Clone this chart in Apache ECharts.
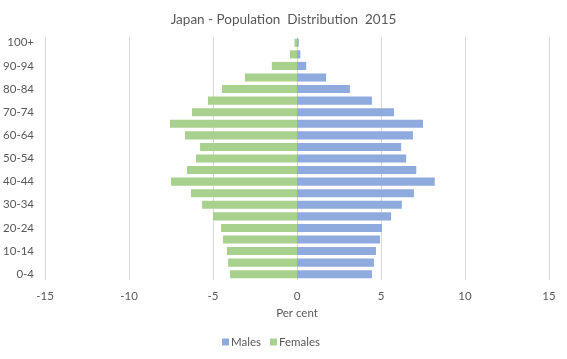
<!DOCTYPE html>
<html><head><meta charset="utf-8">
<script src="https://cdn.jsdelivr.net/npm/echarts@6/dist/echarts.min.js"></script>
<style>html,body{margin:0;padding:0;background:#fff}#c{width:567px;height:359px}</style>
</head><body><div id="c"></div>
<script>
const categories = ['0-4','5-9','10-14','15-19','20-24','25-29','30-34','35-39','40-44','45-49','50-54','55-59','60-64','65-69','70-74','75-79','80-84','85-89','90-94','95-99','100+'];
const males = [4.46,4.58,4.7,4.94,5.06,5.6,6.24,6.96,8.2,7.1,6.5,6.2,6.9,7.5,5.77,4.46,3.15,1.73,0.55,0.2,0.1];
const females = [-3.99,-4.1,-4.17,-4.4,-4.52,-5.0,-5.65,-6.31,-7.5,-6.55,-6.01,-5.77,-6.67,-7.56,-6.25,-5.3,-4.46,-3.1,-1.5,-0.42,-0.15];
const xTicks = [-15,-10,-5,0,5,10,15];
const txt = '#595959';
const ff = 'Lato, Open Sans, sans-serif';
const chart = echarts.init(document.getElementById('c'));
chart.setOption({
  animation:false,
  textStyle:{fontFamily:ff},
  title:{text:'Japan - Population  Distribution  2015',left:'center',top:8,textStyle:{fontSize:13.5,fontWeight:'normal',color:txt,fontFamily:ff}},
  legend:{bottom:6,left:217,itemWidth:7,itemHeight:7,itemGap:9,icon:'rect',textStyle:{fontSize:11.5,color:txt,fontFamily:ff,padding:[0,0,0,-3]},data:['Males','Females']},
  grid:{left:45,right:18,top:37,bottom:79,containLabel:false},
  xAxis:{type:'value',min:xTicks[0],max:xTicks[xTicks.length-1],interval:5,
    name:'Per cent',nameLocation:'middle',nameGap:25,nameTextStyle:{fontSize:11.5,color:txt,fontFamily:ff},
    axisLine:{show:false},axisTick:{show:false},
    axisLabel:{fontSize:11.5,color:txt,margin:10,fontFamily:ff},
    splitLine:{lineStyle:{color:'#d9d9d9',width:1}}},
  yAxis:{type:'category',data:categories,
    axisLine:{show:false},axisTick:{show:false},
    axisLabel:{interval:1,fontSize:11.5,color:txt,margin:11,fontFamily:ff}},
  series:[
    {name:'Males',type:'bar',data:males,stack:'p',barCategoryGap:'30%',itemStyle:{color:'#8FAADC'}},
    {name:'Females',type:'bar',data:females,stack:'p',barCategoryGap:'30%',itemStyle:{color:'#A9D18E'}}
  ]
});
</script></body></html>
